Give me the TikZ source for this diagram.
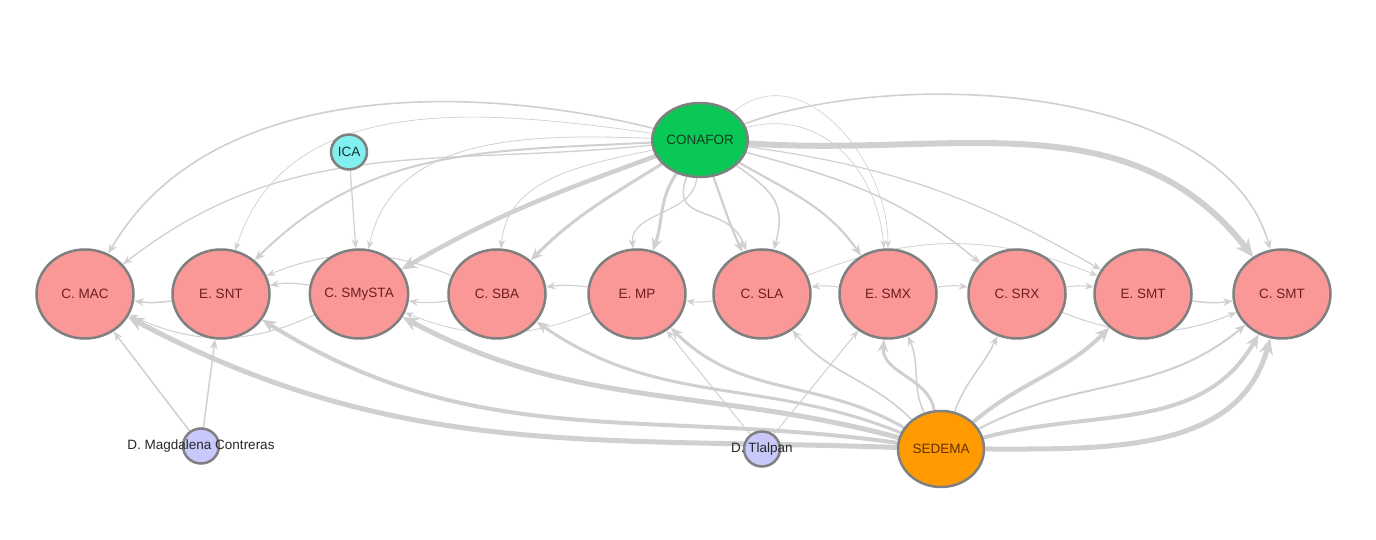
\documentclass[tikz,border=0pt]{standalone}
\usepackage{fontspec}
\setmainfont{Liberation Sans}
\usetikzlibrary{shapes.geometric,arrows.meta,backgrounds}
\definecolor{pinkfill}{RGB}{250,152,152}
\definecolor{nodeborder}{RGB}{128,128,128}
\definecolor{greenfill}{RGB}{10,200,85}
\definecolor{cyanfill}{RGB}{130,240,240}
\definecolor{orangefill}{RGB}{255,155,0}
\definecolor{lavfill}{RGB}{200,200,250}
\definecolor{edgegray}{RGB}{208,208,208}
\definecolor{pinktext}{RGB}{110,30,30}
\definecolor{darktext}{RGB}{40,40,40}
\tikzset{
  base/.style={ellipse,draw=nodeborder,line width=2.5pt,inner sep=0pt,font=\fontsize{13.5}{15}\selectfont},
  rownode/.style={base,fill=pinkfill,text=pinktext,minimum width=97pt,minimum height=89pt},
  bignode/.style={base,minimum width=82pt,minimum height=74pt},
  smallnode/.style={base,minimum width=36pt,minimum height=35pt},
  lbl/.style={font=\fontsize{13.5}{15}\selectfont,text=darktext,inner sep=0pt},
  edge/.style={draw=edgegray,line width=#1,-{Stealth[length=7pt 1.8,width=5pt 1.8]}},
  edge/.default=1pt
}
\begin{document}
\begin{tikzpicture}[x=1pt,y=1pt]
\useasboundingbox (0,0) rectangle (1376,540);
% nodes
\node[bignode,fill=greenfill,text={rgb,255:red,20;green,60;blue,30}] (c) at (700,400) {CONAFOR};
\node[smallnode,fill=cyanfill,text={rgb,255:red,20;green,50;blue,60}] (i) at (349,388) {ICA};
\node[rownode] (cmac) at (85,246) {C. MAC};
\node[rownode] (esnt) at (221,246) {E. SNT};
\node[rownode] (csmy) at (359,246) {C. SMySTA};
\node[rownode] (csba) at (497,246) {C. SBA};
\node[rownode] (emp)  at (637,246) {E. MP};
\node[rownode] (csla) at (762,246) {C. SLA};
\node[rownode] (esmx) at (888,246) {E. SMX};
\node[rownode] (csrx) at (1017,246) {C. SRX};
\node[rownode] (esmt) at (1143,246) {E. SMT};
\node[rownode] (csmt) at (1282,246) {C. SMT};
\node[smallnode,fill=lavfill] (m) at (201,94) {};
\node[smallnode,fill=lavfill] (t) at (762,91) {};
\node[bignode,fill=orangefill,text={rgb,255:red,100;green,50;blue,0},minimum width=86pt,minimum height=76pt] (s) at (941,91) {SEDEMA};
\node[lbl] (ml) at (201,94) {D. Magdalena Contreras};
\node[lbl] (tl) at (762,91) {D. Tlalpan};
\begin{scope}[on background layer]
\fill[white] (0,0) rectangle (1376,540);
% CONAFOR edges
\draw[edge=1.6] (c) to[out=166,in=60,looseness=0.9] (cmac);
\draw[edge=1.3] (c) to[out=186,in=38] (cmac);
\draw[edge=2] (c) to[out=183,in=45] (esnt);
\draw[edge=0.7] (c) to[out=172,in=72] (esnt);
\draw[edge=4.5] (c) to[out=200,in=30] (csmy);
\draw[edge=0.8] (c) to[out=178,in=78] (csmy);
\draw[edge=3] (c) to[out=212,in=45] (csba);
\draw[edge=0.8] (c) to[out=192,in=85] (csba);
\draw[edge=3] (c) to[out=235,in=70] (emp);
\draw[edge=1.2] (c) to[out=265,in=95] (emp);
\draw[edge=1.5] (c) to[out=250,in=110,looseness=1.4] (csla);
\draw[edge=2.2] (c) to[out=-70,in=115] (csla);
\draw[edge=1.5] (c) to[out=-35,in=75,looseness=1.3] (csla);
\draw[edge=2.2] (c) to[out=-30,in=125] (esmx);
\draw[edge=0.7] (c) to[out=15,in=95,looseness=1.1] (esmx);
\draw[edge=0.6] (c) to[out=40,in=90,looseness=1.1] (esmx);
\draw[edge=1.5] (c) to[out=-15,in=140] (csrx);
\draw[edge=1.2] (c) to[out=-8,in=150] (esmt);
\draw[edge=6] (c) to[out=-4,in=128] (csmt);
\draw[edge=1.6] (c) to[out=20,in=105,looseness=0.8] (csmt);
% SEDEMA edges
\draw[edge=5] (s) to[out=178,in=-28] (cmac);
\draw[edge=4] (s) to[out=172,in=-32] (esnt);
\draw[edge=5] (s) to[out=165,in=-28] (csmy);
\draw[edge=3] (s) to[out=158,in=-35] (csba);
\draw[edge=3] (s) to[out=150,in=-45] (emp);
\draw[edge=1.6] (s) to[out=135,in=-50] (csla);
\draw[edge=3] (s) to[out=100,in=-95] (esmx);
\draw[edge=1.5] (s) to[out=115,in=-65] (esmx);
\draw[edge=1.5] (s) to[out=70,in=-115] (csrx);
\draw[edge=4] (s) to[out=40,in=-135] (esmt);
\draw[edge=2] (s) to[out=28,in=-140] (csmt);
\draw[edge=4] (s) to[out=15,in=-120] (csmt);
\draw[edge=5] (s) to[out=0,in=-105] (csmt);
% row edges
\draw[edge=1.5] (esnt) to[bend left=8] (cmac);
\draw[edge=1.2] (csmy) to[bend right=10] (esnt);
\draw[edge=1] (csmy) to[bend left=25] (cmac);
\draw[edge=1.2] (csba) to[bend left=8] (csmy);
\draw[edge=1] (csba) to[bend right=22] (esnt);
\draw[edge=1.2] (emp) to[bend right=8] (csba);
\draw[edge=0.8] (emp) to[bend left=22] (csmy);
\draw[edge=1] (csla) to[bend left=8] (emp);
\draw[edge=1] (esmx) to[bend right=8] (csla);
\draw[edge=1] (esmx) to[bend left=8] (csrx);
\draw[edge=1] (csrx) to[bend left=8] (esmt);
\draw[edge=1.5] (esmt) to[bend right=8] (csmt);
\draw[edge=1] (csrx) to[bend right=22] (csmt);
\draw[edge=0.8] (csla) to[bend left=22] (esmt);
% small nodes
\draw[edge=1.5] (m) -- (cmac);
\draw[edge=1.5] (m) -- (esnt);
\draw[edge=1.2] (i) -- (csmy);
\draw[edge=1] (t) -- (emp);
\draw[edge=1] (t) -- (esmx);
\end{scope}
\end{tikzpicture}
\end{document}
